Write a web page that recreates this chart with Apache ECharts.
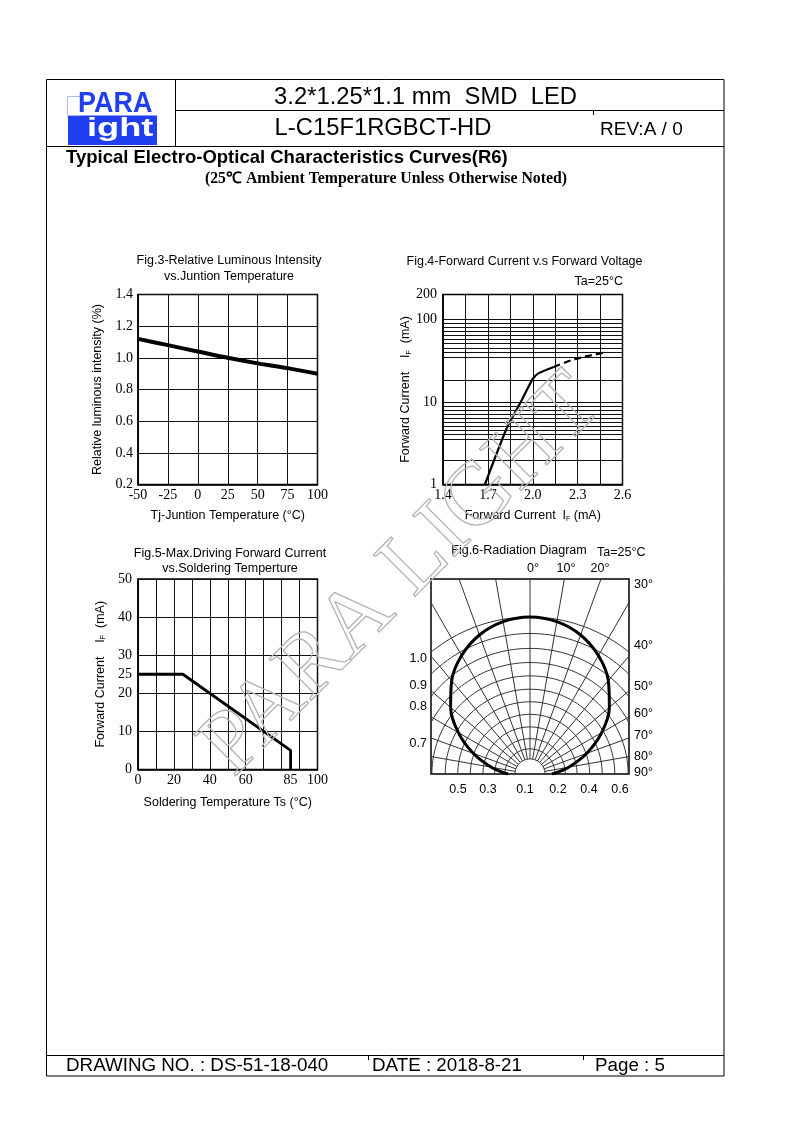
<!DOCTYPE html>
<html><head><meta charset="utf-8">
<script src="https://cdn.jsdelivr.net/npm/echarts@6/dist/echarts.min.js"></script>
<style>html,body{margin:0;padding:0;background:#fff}#c{width:793px;height:1123px}</style>
</head><body><div id="c"></div>
<script>
// ---------- DATA ----------
// Fig.3 Relative luminous intensity vs junction temperature
const fig3Temps = [-50, -25, 0, 25, 50, 75, 100];
const fig3Intensity = [1.12, 1.08, 1.04, 1.00, 0.965, 0.935, 0.90];

// Fig.4 Forward current vs forward voltage (log scale)
const fig4VoltSolid = [1.68, 1.83, 1.92, 2.00, 2.04, 2.14];
const fig4CurrSolid = [1, 5, 10, 19, 22.3, 26.5];
const fig4VoltDashed = [2.14, 2.28, 2.49];
const fig4CurrDashed = [26.5, 33, 40];
const fig4GridCurrents = [100, 89.6, 80.4, 71.4, 64, 56.7, 50.9, 45.2, 40.5, 35.1, 18.5,
                          10, 8.96, 8.04, 7.14, 6.4, 5.67, 5.09, 4.52, 4.05, 3.51, 1.98];
const fig4XLabels = [1.4, 1.7, 2.0, 2.3, 2.6];

// Fig.5 Max driving forward current vs soldering temperature
const fig5Temps = [0, 25, 85, 85];
const fig5Currents = [25, 25, 5, 0];
const fig5XLabels = [0, 20, 40, 60, 85, 100];
const fig5YLabels = [0, 10, 20, 25, 30, 40, 50];

// Fig.6 Radiation diagram
const fig6Angles = [-90, -80, -70, -60, -50, -40, -30, -20, -10, 0, 10, 20, 30, 40, 50, 60, 70, 80, 90];
const fig6Intensity = [0.14, 0.25, 0.385, 0.527, 0.66, 0.776, 0.871, 0.942, 0.985, 1.0,
                       0.985, 0.942, 0.871, 0.776, 0.66, 0.527, 0.385, 0.25, 0.14];
const fig6ArcRadii = [0.096, 0.16, 0.225, 0.30, 0.38, 0.46, 0.54, 0.625, 0.71, 0.80, 0.895, 1.0];
const fig6SpokeAngles = [-80, -70, -60, -50, -40, -30, -20, -10, 0, 10, 20, 30, 40, 50, 60, 70, 80];
const fig6TopLabels = ['0°', '10°', '20°'];
const fig6RightLabels = ['30°', '40°', '50°', '60°', '70°', '80°', '90°'];
const fig6LeftLabels = ['1.0', '0.9', '0.8', '0.7'];
const fig6BottomLabels = ['0.5', '0.3', '0.1', '0.2', '0.4', '0.6'];

// ---------- STYLE / LAYOUT ----------
const SANS = '"Liberation Sans", Arial, sans-serif';
const SERIF = '"Liberation Serif", "Times New Roman", serif';
const BLUE = '#1f3ff0';

function T(x, y, text, size, o) {
  o = o || {};
  return {
    type: 'text', x: x, y: y, z: 50, silent: true,
    scaleX: o.scaleX || 1, originX: 0, originY: 0,
    style: {
      text: text, fontSize: size, fontFamily: o.family || SANS,
      fontWeight: o.weight || 'normal', fill: o.fill || '#000',
      textAlign: o.align || 'left', align: o.align || 'left',
      textVerticalAlign: o.valign || 'middle', verticalAlign: o.valign || 'middle'
    }
  };
}
function L(x1, y1, x2, y2, w, c) {
  return { type: 'line', z: 50, silent: true, shape: { x1: x1, y1: y1, x2: x2, y2: y2 },
           style: { stroke: c || '#000', lineWidth: w || 1 } };
}

const graphics = [
  { type: 'rect', z: 50, silent: true, shape: { x: 46.5, y: 79.5, width: 677.5, height: 996.5 },
    style: { fill: 'none', stroke: '#000', lineWidth: 1 } },
  L(175.5, 79.5, 175.5, 146.5),
  L(175.5, 110.5, 724, 110.5),
  L(46.5, 146.5, 724, 146.5),
  L(46.5, 1055.5, 724, 1055.5),
  L(593.5, 110.5, 593.5, 115),
  L(368.5, 1055.5, 368.5, 1060),
  L(583.5, 1055.5, 583.5, 1060),
  // logo
  { type: 'rect', z: 50, silent: true, shape: { x: 68, y: 115.5, width: 89, height: 29.5 }, style: { fill: BLUE } },
  { type: 'polyline', z: 50, silent: true, shape: { points: [[80, 96.5], [67.5, 96.5], [67.5, 115.5], [82, 115.5]] },
    style: { stroke: '#a9b9ee', lineWidth: 1, fill: 'none' } },
  T(78, 103.5, 'PARA', 29, { weight: 'bold', fill: BLUE, scaleX: 0.93 }),
  T(87, 129.5, 'ight', 25, { weight: 'bold', fill: '#fff', scaleX: 1.45 }),
  // header text
  T(425.5, 97, '3.2*1.25*1.1 mm  SMD  LED', 23.8, { align: 'center' }),
  T(383, 128, 'L-C15F1RGBCT-HD', 23.8, { align: 'center' }),
  T(600, 129.5, 'REV:A / 0', 19),
  T(66, 158, 'Typical Electro-Optical Characteristics Curves(R6)', 18.5, { weight: 'bold' }),
  T(386, 179, '(25\u2103 Ambient Temperature Unless Otherwise Noted)', 15.8, { weight: 'bold', family: SERIF, align: 'center' }),
  // footer
  T(66, 1066, 'DRAWING NO. : DS-51-18-040', 18.8),
  T(372, 1066, 'DATE : 2018-8-21', 18.8),
  T(595, 1066, 'Page : 5', 18.8),
  // figure titles
  T(229, 260.5, 'Fig.3-Relative Luminous Intensity', 12.5, { align: 'center' }),
  T(229, 277, 'vs.Juntion Temperature', 12.5, { align: 'center' }),
  T(524.5, 261.5, 'Fig.4-Forward Current v.s Forward Voltage', 12.5, { align: 'center' }),
  T(623, 281.5, 'Ta=25°C', 12.5, { align: 'right' }),
  T(230, 553.5, 'Fig.5-Max.Driving Forward Current', 12.5, { align: 'center' }),
  T(230, 568.5, 'vs.Soldering Temperture', 12.5, { align: 'center' }),
  T(519, 551, 'Fig.6-Radiation Diagram', 12.5, { align: 'center' }),
  T(597, 552.5, 'Ta=25°C', 12.5)
];
// Fig.6 outer labels
const topX = [533, 566, 600];
fig6TopLabels.forEach((s, i) => graphics.push(T(topX[i], 569, s, 12.5, { align: 'center' })));
const rightY = [585, 646, 686.5, 714, 736, 757, 773];
fig6RightLabels.forEach((s, i) => graphics.push(T(634, rightY[i], s, 12.5)));
const leftY = [659, 686, 707, 744];
fig6LeftLabels.forEach((s, i) => graphics.push(T(427, leftY[i], s, 12.5, { align: 'right' })));
const bottomX = [458, 488, 525, 558, 589, 620];
fig6BottomLabels.forEach((s, i) => graphics.push(T(bottomX[i], 789.5, s, 12.5, { align: 'center' })));
// watermark
graphics.push({
  type: 'text', x: 402, y: 576, rotation: Math.PI / 4, z: 100, silent: true,
  style: { text: 'PARA LIGHT', fontSize: 90, fontFamily: SERIF, fill: 'rgba(255,255,255,0)',
           stroke: '#b3b3b3', lineWidth: 1.3, textAlign: 'center', align: 'center',
           textVerticalAlign: 'middle', verticalAlign: 'middle' }
});

// ---------- helpers for axes ----------
const gridLine = { show: true, lineStyle: { color: '#111', width: 1 } };
const axisLine = { show: true, onZero: false, lineStyle: { color: '#000', width: 1.5 } };
const tickLabel = (extra) => Object.assign({ fontFamily: SERIF, fontSize: 14, color: '#000' }, extra || {});
const nameStyle = {
  fontFamily: SANS, fontSize: 12.5, color: '#000',
  rich: {
    a: { fontFamily: SANS, fontSize: 12.5, color: '#000' },
    s: { fontFamily: SANS, fontSize: 7, color: '#000', verticalAlign: 'bottom', padding: [4, 0, 0, 0] }
  }
};

// Fig.6 geometry
const D2R = Math.PI / 180;
const arcData = [];
fig6ArcRadii.forEach(r => {
  for (let a = -90; a <= 90; a += 2) arcData.push([r * Math.sin(a * D2R), r * Math.cos(a * D2R)]);
  arcData.push(['-', '-']);
});
const spokeData = [];
const rIn = fig6ArcRadii[0];
fig6SpokeAngles.forEach(a => {
  spokeData.push([rIn * Math.sin(a * D2R), rIn * Math.cos(a * D2R)]);
  spokeData.push([2 * Math.sin(a * D2R), 2 * Math.cos(a * D2R)]);
  spokeData.push(['-', '-']);
});
const curveData = fig6Angles.map((a, i) => [fig6Intensity[i] * Math.sin(a * D2R), fig6Intensity[i] * Math.cos(a * D2R)]);

const gridBase = { show: true, borderColor: '#000', borderWidth: 1.5, backgroundColor: 'transparent', containLabel: false };

const option = {
  animation: false,
  backgroundColor: '#fff',
  grid: [
    Object.assign({ left: 138, top: 294.5, width: 179.5, height: 190 }, gridBase),
    Object.assign({ left: 443, top: 294.5, width: 179.5, height: 190 }, gridBase),
    Object.assign({ left: 138, top: 579, width: 179.5, height: 190.5 }, gridBase),
    Object.assign({ left: 431, top: 579, width: 198, height: 195 }, gridBase)
  ],
  xAxis: [
    { gridIndex: 0, type: 'value', min: -50, max: 100, interval: 25,
      axisLine: axisLine, axisTick: { show: false }, splitLine: gridLine,
      axisLabel: tickLabel({ margin: 4 }),
      name: 'Tj-Juntion Temperature (°C)', nameLocation: 'middle', nameGap: 25, nameTextStyle: nameStyle },
    { gridIndex: 1, type: 'value', min: 1.4, max: 2.6, interval: 0.15,
      axisLine: axisLine, axisTick: { show: false }, splitLine: gridLine,
      axisLabel: tickLabel({ margin: 4, customValues: fig4XLabels, formatter: v => Number(v).toFixed(1) }),
      name: '{a|Forward Current  I}{s|F}{a| (mA)}', nameLocation: 'middle', nameGap: 25, nameTextStyle: nameStyle },
    { gridIndex: 2, type: 'value', min: 0, max: 100, interval: 10,
      axisLine: axisLine, axisTick: { show: false }, splitLine: gridLine,
      axisLabel: tickLabel({ margin: 4, customValues: fig5XLabels }),
      name: 'Soldering Temperature Ts (°C)', nameLocation: 'middle', nameGap: 27, nameTextStyle: nameStyle },
    { gridIndex: 3, type: 'value', min: -0.6306, max: 0.6306, show: false, splitLine: { show: false } }
  ],
  yAxis: [
    { gridIndex: 0, type: 'value', min: 0.2, max: 1.4, interval: 0.2,
      axisLine: axisLine, axisTick: { show: false }, splitLine: gridLine,
      axisLabel: tickLabel({ margin: 5, formatter: v => Number(v).toFixed(1) }),
      name: 'Relative luminous intensity (%)', nameLocation: 'middle', nameGap: 34, nameRotate: 90, nameTextStyle: nameStyle },
    { gridIndex: 1, type: 'log', logBase: 10, min: 1, max: 200,
      axisLine: axisLine, axisTick: { show: false }, splitLine: { show: false },
      axisLabel: tickLabel({ margin: 6 }),
      name: '{a|Forward Current    I}{s|F}{a|  (mA)}', nameLocation: 'middle', nameGap: 30, nameRotate: 90, nameTextStyle: nameStyle },
    { gridIndex: 2, type: 'value', min: 0, max: 50, interval: 10,
      axisLine: axisLine, axisTick: { show: false }, splitLine: gridLine,
      axisLabel: tickLabel({ margin: 6, customValues: fig5YLabels }),
      name: '{a|Forward Current    I}{s|F}{a|  (mA)}', nameLocation: 'middle', nameGap: 31, nameRotate: 90, nameTextStyle: nameStyle },
    { gridIndex: 3, type: 'value', min: 0, max: 1.242, show: false, splitLine: { show: false } }
  ],
  series: [
    { type: 'line', xAxisIndex: 0, yAxisIndex: 0, symbol: 'none', smooth: 0.3, silent: true,
      data: fig3Temps.map((t, i) => [t, fig3Intensity[i]]),
      lineStyle: { color: '#000', width: 4 } },
    { type: 'line', xAxisIndex: 1, yAxisIndex: 1, symbol: 'none', smooth: 0.2, silent: true,
      data: fig4VoltSolid.map((v, i) => [v, fig4CurrSolid[i]]),
      lineStyle: { color: '#000', width: 2.2 },
      markLine: { silent: true, symbol: ['none', 'none'], label: { show: false },
        lineStyle: { color: '#111', width: 1, type: 'solid' },
        emphasis: { disabled: true },
        data: fig4GridCurrents.map(v => ({ yAxis: v })) } },
    { type: 'line', xAxisIndex: 1, yAxisIndex: 1, symbol: 'none', smooth: 0.2, silent: true,
      data: fig4VoltDashed.map((v, i) => [v, fig4CurrDashed[i]]),
      lineStyle: { color: '#000', width: 2.2, type: [7, 4] } },
    { type: 'line', xAxisIndex: 2, yAxisIndex: 2, symbol: 'none', silent: true,
      data: fig5Temps.map((t, i) => [t, fig5Currents[i]]),
      lineStyle: { color: '#000', width: 2.8 } },
    { type: 'line', xAxisIndex: 3, yAxisIndex: 3, symbol: 'none', silent: true, clip: true,
      data: arcData, lineStyle: { color: '#333', width: 1 } },
    { type: 'line', xAxisIndex: 3, yAxisIndex: 3, symbol: 'none', silent: true, clip: true,
      data: spokeData, lineStyle: { color: '#333', width: 1 } },
    { type: 'line', xAxisIndex: 3, yAxisIndex: 3, symbol: 'none', silent: true, clip: true, smooth: 0.35,
      data: curveData, lineStyle: { color: '#000', width: 3 } }
  ],
  graphic: { elements: graphics }
};

const chart = echarts.init(document.getElementById('c'), null, { renderer: 'canvas', width: 793, height: 1123 });
chart.setOption(option);
</script>
</body></html>
